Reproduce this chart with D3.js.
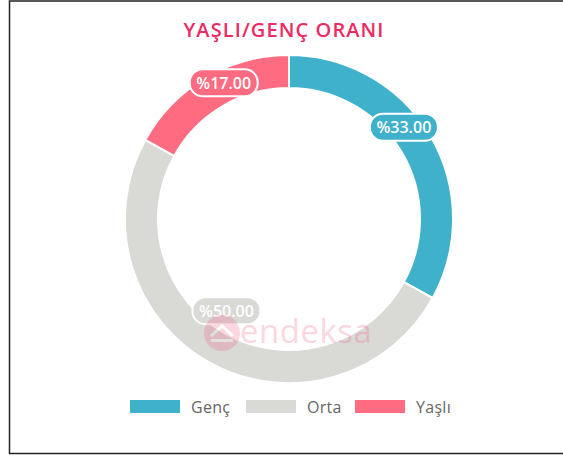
<!DOCTYPE html>
<html>
<head>
<meta charset="utf-8">
<script src="https://cdn.jsdelivr.net/npm/d3@7"></script>
<style>
  body { margin: 0; background: #fff; }
  text { font-family: "Open Sans", sans-serif; }
</style>
</head>
<body>
<div id="chart"></div>
<script>
const categories = ["Genç", "Orta", "Yaşlı"];
const values = [33, 50, 17];
const colors = ["#40b1cb", "#d9d9d5", "#ff6b80"];
const title = "YAŞLI/GENÇ ORANI";

const width = 563, height = 459;
const cx = 289, cy = 219;
const outerR = 164, innerR = 131;

// where chart.js-style labels ended up (angle shift in deg, radius)
const labelPlace = [{da: -8, r: 147}, {da: 5.5, r: 111}, {da: 5, r: 151}];

const svg = d3.select("#chart").append("svg")
  .attr("width", width).attr("height", height);

// frame
svg.append("path")
  .attr("d", `M${width},1 H9.5 V453.5 H${width}`)
  .attr("fill", "none").attr("stroke", "#222").attr("stroke-width", 1.5);

svg.append("text")
  .attr("x", 284).attr("y", 37)
  .attr("text-anchor", "middle")
  .attr("font-size", 20).attr("font-weight", 600)
  .attr("letter-spacing", 1.1)
  .attr("fill", "#ec2a63")
  .text(title);

const pie = d3.pie().sort(null).value(d => d)(values);
const arc = d3.arc().innerRadius(innerR).outerRadius(outerR);

const g = svg.append("g").attr("transform", `translate(${cx},${cy})`);
g.selectAll("path.slice")
  .data(pie)
  .enter().append("path")
  .attr("class", "slice")
  .attr("d", arc)
  .attr("fill", (d, i) => colors[i])
  .attr("stroke", "#fff").attr("stroke-width", 2);

// watermark
const wm = svg.append("g").attr("opacity", 0.22);
wm.append("circle").attr("cx", 222).attr("cy", 333).attr("r", 18).attr("fill", "#f0507a");
wm.append("path").attr("d", "M211,336 L222,326 L233,336").attr("fill", "none")
  .attr("stroke", "#fff").attr("stroke-width", 3);
wm.append("rect").attr("x", 211).attr("y", 339).attr("width", 22).attr("height", 3).attr("fill", "#fff");
wm.append("text").attr("x", 240).attr("y", 343)
  .attr("font-size", 33).attr("fill", "#f0507a")
  .attr("letter-spacing", 0.5)
  .text("endeksa");

// value labels
const labels = g.selectAll("g.lbl")
  .data(pie)
  .enter().append("g")
  .attr("class", "lbl")
  .attr("transform", (d, i) => {
    const a = (d.startAngle + d.endAngle) / 2 + labelPlace[i].da * Math.PI / 180;
    const r = labelPlace[i].r;
    return `translate(${r * Math.sin(a)},${-r * Math.cos(a)})`;
  });
labels.append("rect")
  .attr("x", -34).attr("y", -13.5).attr("width", 68).attr("height", 27)
  .attr("rx", 13)
  .attr("fill", (d, i) => colors[i])
  .attr("stroke", "#fff").attr("stroke-width", 2);
labels.append("text")
  .attr("text-anchor", "middle").attr("dy", 6)
  .attr("font-size", 16).attr("font-weight", 600)
  .attr("fill", "#fff")
  .text(d => "%" + d.value.toFixed(2));

// legend
const legX = [130, 246, 355];
const leg = svg.selectAll("g.leg")
  .data(categories)
  .enter().append("g")
  .attr("class", "leg")
  .attr("transform", (d, i) => `translate(${legX[i]},400)`);
leg.append("rect").attr("width", 50).attr("height", 13)
  .attr("fill", (d, i) => colors[i]);
leg.append("text").attr("x", 61).attr("y", 13)
  .attr("font-size", 16).attr("fill", "#666")
  .attr("letter-spacing", 0.3)
  .text(d => d);
</script>
</body>
</html>
